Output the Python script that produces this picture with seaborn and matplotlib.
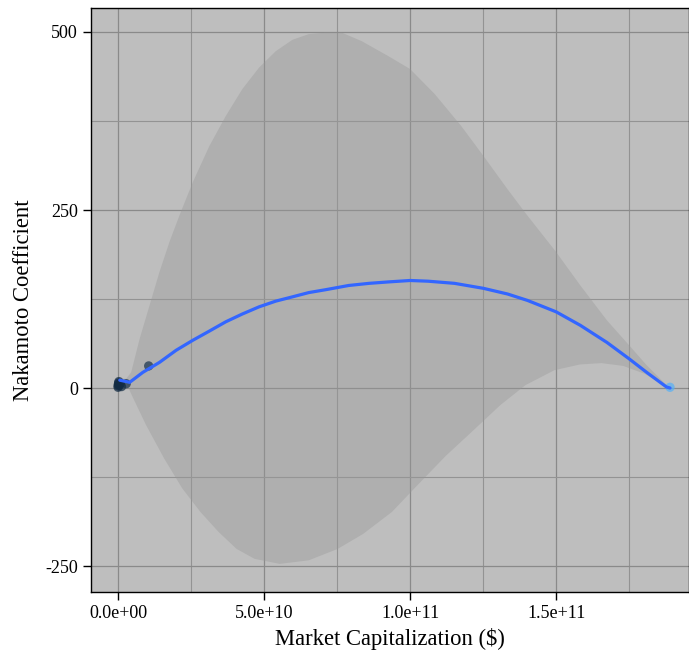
import numpy as np
import pandas as pd
import matplotlib
matplotlib.use("Agg")
import matplotlib.pyplot as plt
from matplotlib.colors import LinearSegmentedColormap
import seaborn as sns

# observed points (market cap in $, Nakamoto coefficient)
mcap = [2e7, 5e7, 1e8, 2e8, 3e8, 5e8, 8e8, 1.2e9, 2.8e9, 1.05e10, 1.89e11]
nakamoto = [1, 3, 5, 7, 9, 4, 6, 2, 6, 31, 1]

# smoothed fit line, x in $
fit_x = [0.6e9, 4.0e9, 8.5e9, 14.2e9, 19.9e9, 25.6e9, 31.3e9, 36.9e9, 42.6e9,
         48.3e9, 54.0e9, 59.7e9, 65.3e9, 71.0e9, 79.0e9, 86.0e9, 92.6e9, 100e9,
         106.2e9, 115.2e9, 125.1e9, 133.4e9, 140.2e9, 150e9, 158.3e9, 167.4e9,
         175e9, 181e9, 187.8e9, 189.0e9]
fit_y = [11, 8, 22, 36, 53, 67, 80, 93, 104, 114, 122, 128, 134, 138, 144, 147,
         149, 151, 150, 147, 140, 132, 123, 107, 88, 64, 41, 22, 1.4, 0]

# upper confidence limit
hi_x = [0.3e9, 2.8e9, 4.5e9, 7.4e9, 10.8e9, 14.2e9, 17.6e9, 21.0e9, 25.6e9,
        31.3e9, 36.9e9, 42.6e9, 48.3e9, 54.0e9, 59.7e9, 65.3e9, 71.0e9, 76.7e9,
        83.5e9, 92.6e9, 100e9, 108.4e9, 117.5e9, 125.1e9, 133.4e9, 140.2e9,
        150e9, 158.3e9, 167.4e9, 175e9, 181e9, 187.8e9, 189.0e9]
hi_y = [14, 13, 22, 69, 116, 163, 205, 242, 289, 340, 382, 420, 450, 473, 489,
        497, 499, 499, 487, 466, 448, 413, 368, 326, 279, 242, 191, 144, 95, 60,
        32, 4, 0]

# lower confidence limit
lo_x = [0.3e9, 2.2e9, 4.7e9, 9.6e9, 15.8e9, 22.0e9, 28.2e9, 34.4e9, 40.6e9,
        46.8e9, 55.4e9, 65.3e9, 75.2e9, 83.9e9, 93.8e9, 102.4e9, 112.3e9, 121.0e9,
        130.9e9, 139.5e9, 149.4e9, 158.1e9, 165.5e9, 173.0e9, 180.3e9, 187.8e9,
        189.0e9]
lo_y = [6, 13, -10, -52, -99, -141, -174, -202, -226, -240, -247, -242, -226,
        -205, -174, -137, -95, -62, -24, 4, 25, 33, 35, 31, 20, 1.4, 0]

x_ticks = [0, 5e10, 1e11, 1.5e11]
x_labels = ["0.0e+00", "5.0e+10", "1.0e+11", "1.5e+11"]
y_ticks = [-250, 0, 250, 500]
y_labels = ["-250", "0", "250", "500"]

pts = pd.DataFrame({"mcap": mcap, "nakamoto": nakamoto})
fit = pd.DataFrame({"x": fit_x, "y": fit_y})

sns.set_theme(style="white")
plt.rcParams["font.family"] = ["Liberation Serif", "DejaVu Serif"]

fig = plt.figure(figsize=(6.89, 6.60), dpi=100)
ax = fig.add_axes([91 / 689, 1 - 592 / 660, 598 / 689, 584 / 660])
ax.set_facecolor("#BEBEBE")

ax.set_axisbelow(True)

band_x = list(hi_x) + list(lo_x[::-1])
band_y = list(hi_y) + list(lo_y[::-1])
ax.fill(band_x, band_y, color="#999999", alpha=0.4, lw=0, zorder=2)

cmap = LinearSegmentedColormap.from_list("gg", ["#132B43", "#56B1F7"])
sns.scatterplot(data=pts, x="mcap", y="nakamoto", hue="mcap", palette=cmap,
                s=45, alpha=0.7, edgecolor="none", legend=False, ax=ax, zorder=3)
sns.lineplot(data=fit, x="x", y="y", color="#3366FF", lw=2.3, ax=ax, zorder=4)

ax.set_xticks(x_ticks)
ax.set_xticklabels(x_labels)
ax.set_xticks([2.5e10, 7.5e10, 1.25e11, 1.75e11], minor=True)
ax.set_yticks(y_ticks)
ax.set_yticklabels(y_labels)
ax.set_yticks([-125, 125, 375], minor=True)
ax.grid(True, which="major", color="#8A8A8A", lw=0.9)
ax.grid(True, which="minor", color="#939393", lw=0.8)

ax.set_xlim(-9.25e9, 1.955e11)
ax.set_ylim(-286.5, 533.7)

for side in ["left", "bottom", "top", "right"]:
    ax.spines[side].set_color("black")
    ax.spines[side].set_linewidth(1.0)
ax.tick_params(which="major", length=6, width=1, color="black", labelsize=13,
               labelcolor="black", direction="out", bottom=True, left=True)
ax.tick_params(which="minor", length=0)

ax.set_xlabel("Market Capitalization ($)", fontsize=16.3, color="black", labelpad=4)
ax.set_ylabel("Nakamoto Coefficient", fontsize=16.3, color="black", labelpad=8)

fig.savefig("out.png", dpi=100)
